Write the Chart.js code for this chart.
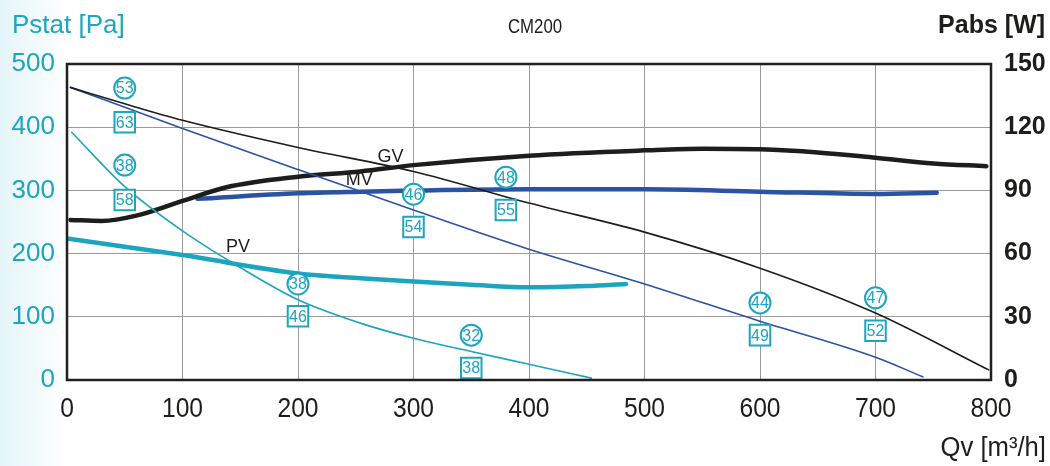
<!DOCTYPE html>
<html>
<head>
<meta charset="utf-8">
<script src="https://cdn.jsdelivr.net/npm/chart.js@4"></script>
<style>
  html, body { margin: 0; padding: 0; }
  body {
    width: 1050px; height: 466px; overflow: hidden;
    background: linear-gradient(to right, #e4f4f8 0px, #f4fbfc 40px, #ffffff 70px);
  }
  canvas { display: block; }
</style>
</head>
<body>
<canvas id="myChart" width="1050" height="466"></canvas>
<script>
// static pressure curves [Pa] vs flow [m3/h]
const flowGV = [3, 50, 100, 200, 300, 400, 500, 600, 700, 798];
const pstatGV = [463, 437, 411, 368, 330, 280, 234, 177, 106, 16];
const flowMV = [3, 100, 200, 300, 400, 500, 600, 700, 741];
const pstatMV = [463, 398, 333, 269, 207, 152, 93, 36, 5];
const flowPV = [4, 50, 100, 150, 200, 254, 300, 350, 400, 454];
const pstatPV = [392, 306, 236, 178, 127, 90, 66, 45, 25, 3];

// absorbed power curves [W]
const powerFlowGV = [3, 30, 60, 100, 138, 200, 254, 300, 400, 500, 550, 600, 650, 700, 750, 796];
const powerGV = [76, 75.5, 78, 85, 91.5, 96.5, 99, 102, 106.5, 109, 109.8, 109.5, 108, 105.5, 102.8, 101.5];
const powerFlowMV = [113, 200, 254, 300, 400, 500, 600, 700, 753];
const powerMV = [86, 88.6, 89.4, 89.9, 90.5, 90.5, 89.4, 88.3, 88.9];
const powerFlowPV = [0, 100, 200, 254, 300, 350, 400, 450, 484];
const powerPV = [67.2, 59.3, 50.6, 48.3, 46.7, 45.2, 44, 44.6, 45.6];

// sound levels: circles above, squares below the operating points
const markFlow = [50, 50, 200, 300, 380, 350, 600, 700];
const circleY = [462, 340, 152, 294, 321, 71, 122, 130];
const circleText = ['53', '38', '38', '46', '48', '32', '44', '47'];
const squareY = [408, 285, 101, 242, 269, 19, 71, 78];
const squareText = ['63', '58', '46', '54', '55', '38', '49', '52'];

// curve names
const curveNames = ['GV', 'MV', 'PV'];
const curveNameX = [280, 253, 148];
const curveNameY = [353, 316, 210];

const xTicks = [0, 100, 200, 300, 400, 500, 600, 700, 800];
const leftTicks = [0, 100, 200, 300, 400, 500];
const rightTicks = [0, 30, 60, 90, 120, 150];

const black = '#1d1d1b';
const blue = '#2a54a3';
const cyan = '#1ca5be';
const sans = '"Liberation Sans", Arial, sans-serif';

function pts(xs, ys) {
  return xs.map((x, i) => ({ x: x, y: ys[i] }));
}

function curve(xs, ys, color, width, axis) {
  return {
    data: pts(xs, ys),
    showLine: true,
    borderColor: color,
    borderWidth: width,
    pointRadius: 0,
    cubicInterpolationMode: 'monotone',
    yAxisID: axis,
    order: 2,
    borderCapStyle: 'round'
  };
}

// narrow text: squeeze horizontally
function narrowText(ctx, txt, x, y, sx) {
  ctx.save();
  ctx.translate(x, y);
  ctx.scale(sx, 1);
  ctx.fillText(txt, 0, 0);
  ctx.restore();
}

const overlay = {
  id: 'overlay',
  afterDatasetsDraw(chart) {
    const ctx = chart.ctx;
    ctx.save();
    ctx.font = '16px ' + sans;
    ctx.fillStyle = cyan;
    ctx.textAlign = 'center';
    ctx.textBaseline = 'middle';
    chart.data.datasets.forEach((ds, i) => {
      if (!ds.texts) return;
      chart.getDatasetMeta(i).data.forEach((el, j) => {
        ctx.fillText(ds.texts[j], el.x, el.y + 1);
      });
    });
    // curve names
    const x = chart.scales.x, y = chart.scales.y;
    ctx.font = '18px ' + sans;
    ctx.fillStyle = black;
    curveNames.forEach((n, i) => {
      ctx.fillText(n, x.getPixelForValue(curveNameX[i]), y.getPixelForValue(curveNameY[i]));
    });
    ctx.restore();
  },
  afterDraw(chart) {
    const ctx = chart.ctx;
    const a = chart.chartArea;
    ctx.save();
    ctx.strokeStyle = '#231f20';
    ctx.lineWidth = 2.5;
    ctx.strokeRect(a.left, a.top, a.right - a.left, a.bottom - a.top);

    // x tick labels (condensed like the original)
    ctx.textBaseline = 'alphabetic';
    ctx.textAlign = 'center';
    ctx.fillStyle = black;
    ctx.font = '28px ' + sans;
    xTicks.forEach(v => {
      narrowText(ctx, String(v), chart.scales.x.getPixelForValue(v), 417, 0.88);
    });

    ctx.font = '26px ' + sans;
    ctx.fillStyle = cyan;
    ctx.textAlign = 'left';
    ctx.fillText('Pstat [Pa]', 12, 33);

    ctx.font = 'bold 25px ' + sans;
    ctx.fillStyle = black;
    ctx.textAlign = 'right';
    ctx.fillText('Pabs [W]', 1045, 33);

    ctx.font = '20px ' + sans;
    ctx.textAlign = 'center';
    narrowText(ctx, 'CM200', 535, 33, 0.84);

    ctx.font = '27px ' + sans;
    ctx.textAlign = 'right';
    narrowText(ctx, 'Qv [m³/h]', 1046, 456, 0.95);
    ctx.restore();
  }
};

const ctx = document.getElementById('myChart');
const myChart = new Chart(ctx, {
  type: 'scatter',
  data: {
    datasets: [
      {
        data: pts(markFlow, circleY),
        texts: circleText,
        pointStyle: 'circle',
        pointRadius: 10.5,
        pointBorderWidth: 2,
        pointBorderColor: cyan,
        pointBackgroundColor: '#ffffff',
        yAxisID: 'y',
        order: 0
      },
      {
        data: pts(markFlow, squareY),
        texts: squareText,
        pointStyle: 'rect',
        pointRadius: 14.5,
        pointBorderWidth: 2,
        pointBorderColor: cyan,
        pointBackgroundColor: '#ffffff',
        yAxisID: 'y',
        order: 0
      },
      curve(flowGV, pstatGV, black, 1.6, 'y'),
      curve(flowMV, pstatMV, blue, 1.6, 'y'),
      curve(flowPV, pstatPV, cyan, 1.6, 'y'),
      curve(powerFlowGV, powerGV, black, 4.5, 'y1'),
      curve(powerFlowMV, powerMV, blue, 4.5, 'y1'),
      curve(powerFlowPV, powerPV, cyan, 4.5, 'y1')
    ]
  },
  options: {
    responsive: false,
    animation: false,
    devicePixelRatio: 1,
    layout: { padding: { top: 64, left: 0, right: 0, bottom: 0 } },
    plugins: {
      legend: { display: false },
      tooltip: { enabled: false }
    },
    scales: {
      x: {
        type: 'linear',
        min: 0,
        max: 800,
        afterFit: (s) => { s.height = 86; },
        afterBuildTicks: (s) => { s.ticks = xTicks.map(v => ({ value: v })); },
        border: { display: false },
        grid: { color: '#9a9a9a', lineWidth: 1, drawTicks: false },
        ticks: { display: false }
      },
      y: {
        position: 'left',
        min: 0,
        max: 500,
        afterFit: (s) => { s.width = 67; },
        afterBuildTicks: (s) => { s.ticks = leftTicks.map(v => ({ value: v })); },
        border: { display: false },
        grid: { color: '#9a9a9a', lineWidth: 1, drawTicks: false },
        ticks: {
          padding: 12,
          color: cyan,
          font: { family: sans, size: 26 }
        }
      },
      y1: {
        position: 'right',
        min: 0,
        max: 150,
        afterFit: (s) => { s.width = 59; },
        afterBuildTicks: (s) => { s.ticks = rightTicks.map(v => ({ value: v })); },
        border: { display: false },
        grid: { display: false, drawTicks: false },
        ticks: {
          padding: 13,
          color: black,
          font: { family: sans, size: 25, weight: 'bold' }
        }
      }
    }
  },
  plugins: [overlay]
});
</script>
</body>
</html>
